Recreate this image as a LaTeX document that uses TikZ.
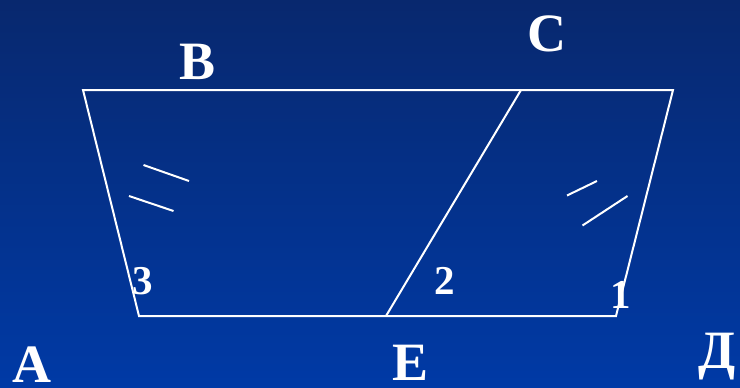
\documentclass[tikz,border=0pt]{standalone}
\usepackage{fontspec}
\setmainfont{Liberation Serif}
\usepackage{xcolor}
\usetikzlibrary{calc,positioning}
\definecolor{slidetop}{RGB}{8,40,110}
\definecolor{slidebot}{RGB}{0,58,166}
\tikzset{
  edge/.style={white,line width=2pt},
  tick/.style={white,line width=2pt},
  vlabel/.style={text=white,font=\bfseries\fontsize{54}{60}\selectfont,inner sep=0pt,text depth=0pt,anchor=base},
  alabel/.style={text=white,font=\bfseries\fontsize{41}{46}\selectfont,inner sep=0pt,text depth=0pt,anchor=base}
}

\begin{document}
\begin{tikzpicture}[x=1pt,y=-1pt]
  % background
  \shade[top color=slidetop,bottom color=slidebot] (0,0) rectangle (740,388);
  \useasboundingbox (0,0) rectangle (740,388);
  % trapezoid
  \coordinate (tl) at (83,90);
  \coordinate (tr) at (673,90);
  \coordinate (br) at (616,316);
  \coordinate (bl) at (139,316);
  \coordinate (tc) at (521,90);
  \coordinate (be) at (386,316);
  \draw[edge] (tl)--(tr)--(br)--(bl)--cycle;
  \draw[edge] (tc)--(be);
  % equal marks
  \draw[tick] (143.5,165)--(189,181);
  \draw[tick] (129,196)--(173.5,211);
  \draw[tick] (567,195.5)--(597,181);
  \draw[tick] (582.5,225.5)--(627.5,196);
  % labels
  \node[vlabel] (labB) at (197.5,79.5) {B};
  \node[vlabel] (labC) at (546.5,52) {C};
  \node[vlabel] (labA) at (32,382) {A};
  \node[vlabel] (labE) at (410.5,380) {E};
  \node[vlabel] (labD) at (717,368) {Д};
  \node[alabel] (ang3) at (142.7,294) {3};
  \node[alabel] (ang2) at (445,294.3) {2};
  \node[alabel] (ang1) at (620.5,308.3) {1};
\end{tikzpicture}
\end{document}
